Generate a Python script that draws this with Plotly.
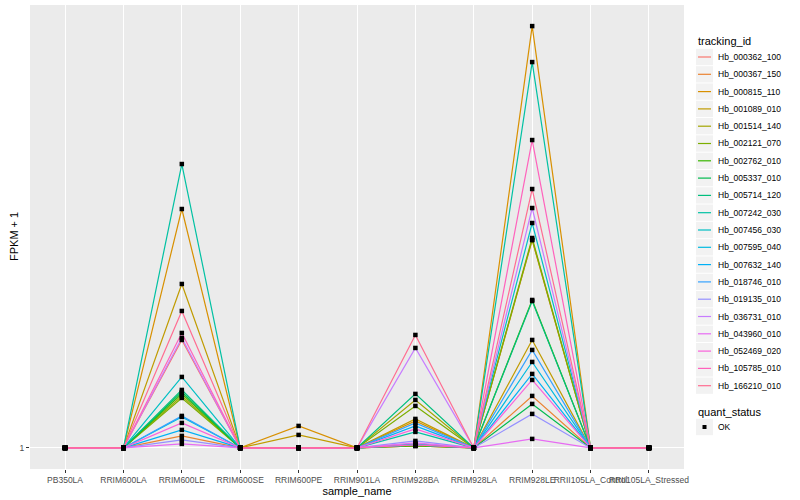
import plotly.graph_objects as go

samples = ["PB350LA", "RRIM600LA", "RRIM600LE", "RRIM600SE", "RRIM600PE", "RRIM901LA",
           "RRIM928BA", "RRIM928LA", "RRIM928LE", "RRII105LA_Control", "RRII105LA_Stressed"]

tracking_ids = ["Hb_000362_100", "Hb_000367_150", "Hb_000815_110", "Hb_001089_010", "Hb_001514_140",
                "Hb_002121_070", "Hb_002762_010", "Hb_005337_010", "Hb_005714_120", "Hb_007242_030",
                "Hb_007456_030", "Hb_007595_040", "Hb_007632_140", "Hb_018746_010", "Hb_019135_010",
                "Hb_036731_010", "Hb_043960_010", "Hb_052469_020", "Hb_105785_010", "Hb_166210_010"]

colors = ["#F8766D", "#EA8331", "#D89000", "#C09B00", "#A3A500", "#7CAE00", "#39B600", "#00BB4E",
          "#00BF7D", "#00C1A3", "#00BFC4", "#00BAE0", "#00B0F6", "#35A2FF", "#9590FF", "#C77CFF",
          "#E76BF3", "#FA62DB", "#FF62BC", "#FF6C91"]

quant_status = ["OK"]

# FPKM + 1 per sample (one value per tracking_id, same order)
pb350la = [1] * 20
rrim600la = [1] * 20
rrim600le = [28, 4, 60.75, 42, 14, 13.5, 14.5, 15, 15.5, 72, 18.75, 8.75, 5.5, 9, 3, 28.5, 2, 7.25, 29.75, 35.25]
rrim600se = [1] * 20
rrim600pe = [1, 1, 6.5, 4.25, 1, 1, 1, 1, 1, 1, 1, 1, 1, 1, 1, 1, 1, 1, 1, 1]
rrim901la = [1] * 20
rrim928ba = [1.5, 1.5, 7.75, 8.25, 13, 11.5, 1.5, 1.75, 14.5, 5, 2, 1.75, 6.5, 7.25, 2.75, 26, 2.25, 5.75, 1.75, 29.25]
rrim928la = [1] * 20
rrim928le = [53, 14, 106.5, 28, 53, 53.5, 38, 12, 37.75, 97.5, 57.25, 22.5, 19.5, 25.5, 9.5, 61, 3.25, 18, 78, 65.75]
rrii105la_control = [1] * 20
rrii105la_stressed = [1] * 20

columns = [pb350la, rrim600la, rrim600le, rrim600se, rrim600pe, rrim901la,
           rrim928ba, rrim928la, rrim928le, rrii105la_control, rrii105la_stressed]

W, H = 800, 500
ML, MR, MT, MB = 30, 116, 5, 31
PW, PH = W - ML - MR, H - MT - MB


def pxx(px):
    return (px - ML) / PW


def pxy(py):
    return 1 - (py - MT) / PH


fig = go.Figure()
for i, tid in enumerate(tracking_ids):
    yv = [col[i] for col in columns]
    fig.add_trace(go.Scatter(x=samples, y=yv, mode="lines", name=tid,
                             line=dict(color=colors[i], width=1.2), showlegend=False))

px_all, py_all = [], []
for i in range(len(tracking_ids)):
    for s, col in zip(samples, columns):
        px_all.append(s)
        py_all.append(col[i])
fig.add_trace(go.Scatter(x=px_all, y=py_all, mode="markers", name=quant_status[0],
                         marker=dict(symbol="square", size=4.5, color="black"), showlegend=False))

# manual ggplot-like legends
shapes, annos = [], []
font_leg = dict(size=8.5, color="black")
annos.append(dict(xref="paper", yref="paper", x=pxx(696), y=pxy(41), text="tracking_id",
                  showarrow=False, xanchor="left", yanchor="middle", font=dict(size=11, color="black")))
step = 17.3
for i, (tid, c) in enumerate(zip(tracking_ids, colors)):
    yc = 57 + step * i
    shapes.append(dict(type="rect", xref="paper", yref="paper", x0=pxx(696), x1=pxx(713),
                       y0=pxy(yc - step / 2 + 0.5), y1=pxy(yc + step / 2 - 0.5),
                       fillcolor="#F2F2F2", line=dict(width=0), layer="above"))
    shapes.append(dict(type="line", xref="paper", yref="paper", x0=pxx(698), x1=pxx(711),
                       y0=pxy(yc), y1=pxy(yc), line=dict(color=c, width=1.2), layer="above"))
    annos.append(dict(xref="paper", yref="paper", x=pxx(716), y=pxy(yc), text=tid, showarrow=False,
                      xanchor="left", yanchor="middle", font=font_leg))
annos.append(dict(xref="paper", yref="paper", x=pxx(696), y=pxy(412), text="quant_status",
                  showarrow=False, xanchor="left", yanchor="middle", font=dict(size=11, color="black")))
shapes.append(dict(type="rect", xref="paper", yref="paper", x0=pxx(696), x1=pxx(713),
                   y0=pxy(427 - step / 2 + 0.5), y1=pxy(427 + step / 2 - 0.5),
                   fillcolor="#F2F2F2", line=dict(width=0), layer="above"))
shapes.append(dict(type="rect", xref="paper", yref="paper", x0=pxx(702.5), x1=pxx(706.5),
                   y0=pxy(425), y1=pxy(429), fillcolor="black", line=dict(width=0), layer="above"))
annos.append(dict(xref="paper", yref="paper", x=pxx(716), y=pxy(427), text=quant_status[0], showarrow=False,
                  xanchor="left", yanchor="middle", font=font_leg))
# y axis title
annos.append(dict(xref="paper", yref="paper", x=pxx(14), y=pxy(237), text="FPKM + 1", textangle=-90,
                  showarrow=False, xanchor="center", yanchor="middle", font=dict(size=11, color="black")))

ymin, ymax = 1, max(max(c) for c in columns)
pad = (ymax - ymin) * 0.05

fig.update_layout(
    width=W, height=H,
    margin=dict(l=ML, r=MR, t=MT, b=MB),
    paper_bgcolor="white", plot_bgcolor="#EBEBEB",
    font=dict(family="Liberation Sans, Arial, sans-serif", size=11, color="black"),
    showlegend=False,
    xaxis=dict(type="category", range=[-0.6, len(samples) - 0.4], showgrid=True, gridcolor="white",
               gridwidth=1.1, zeroline=False, ticks="outside", ticklen=3, tickcolor="#333333",
               tickangle=0, tickfont=dict(size=8.5, color="#4D4D4D"), automargin=False,
               title=dict(text="sample_name", font=dict(size=11), standoff=2)),
    yaxis=dict(range=[ymin - pad, ymax + pad], tickvals=[1], ticktext=["1"], showgrid=True,
               gridcolor="white", gridwidth=1.1, zeroline=False, ticks="outside", ticklen=3,
               tickcolor="#333333", tickfont=dict(size=8.5, color="#4D4D4D"), automargin=False),
    shapes=shapes, annotations=annos,
)

fig.write_html("out.html", config={"displayModeBar": False},
               post_script="document.body.style.margin='0';")
